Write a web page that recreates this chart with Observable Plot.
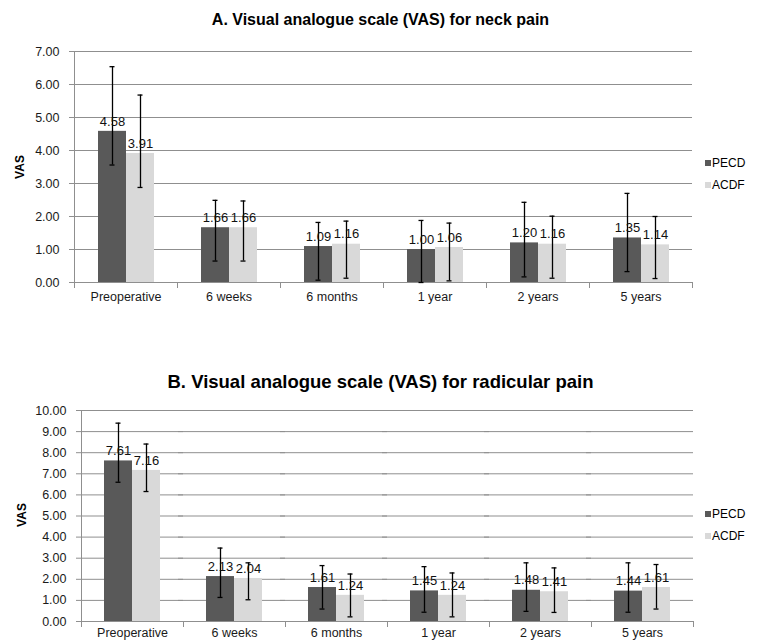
<!DOCTYPE html>
<html>
<head>
<meta charset="utf-8">
<script src="https://cdn.jsdelivr.net/npm/d3@7"></script>
<script src="https://cdn.jsdelivr.net/npm/@observablehq/plot@0.6"></script>
<style>
  html, body { margin: 0; padding: 0; background: #fff; }
  #root { position: relative; width: 761px; height: 642px; overflow: hidden; font-family: "Liberation Sans", Arial, sans-serif; color: #000; }
  .title { position: absolute; left: 0; width: 761px; text-align: center; font-weight: bold; white-space: nowrap; }
  .chart { position: absolute; left: 0; }
  .chart svg { overflow: visible; }
  .ylab { position: absolute; font-weight: bold; font-size: 12px; transform: translate(-50%, -50%) rotate(-90deg); white-space: nowrap; }
  .legend { position: absolute; left: 705px; font-size: 12px; }
  .legend div { position: relative; height: 22px; line-height: 14px; }
  .legend span.sw { position: absolute; left: 0; top: 4px; width: 6px; height: 6px; }
  .legend span.lt { position: absolute; left: 7px; top: 0; }
</style>
</head>
<body>
<div id="root">
  <div class="title" id="titleA" style="top:11px; font-size:16px;"></div>
  <div class="chart" id="chartA" style="top:35px;"></div>
  <div class="ylab" id="ylabA" style="left:20px; top:167px;"></div>
  <div class="legend" id="legendA" style="top:156px;"></div>

  <div class="title" id="titleB" style="top:371px; font-size:18.5px;"></div>
  <div class="chart" id="chartB" style="top:395px;"></div>
  <div class="ylab" id="ylabB" style="left:22px; top:515px;"></div>
  <div class="legend" id="legendB" style="top:507px;"></div>
</div>
<script>
// ---- Data ----
const titleA = "A. Visual analogue scale (VAS) for neck pain";
const titleB = "B. Visual analogue scale (VAS) for radicular pain";
const yLabel = "VAS";
const categories = ["Preoperative", "6 weeks", "6 months", "1 year", "2 years", "5 years"];
const seriesNames = ["PECD", "ACDF"];
const seriesColors = ["#595959", "#d9d9d9"];

const neckTicks = [0, 1, 2, 3, 4, 5, 6, 7];
const neckPECD = [4.58, 1.66, 1.09, 1.00, 1.20, 1.35];
const neckACDF = [3.91, 1.66, 1.16, 1.06, 1.16, 1.14];
const neckPECDLow = [3.56, 0.65, 0.07, 0.00, 0.17, 0.33];
const neckPECDHigh = [6.54, 2.49, 1.82, 1.88, 2.43, 2.70];
const neckACDFLow = [2.88, 0.65, 0.13, 0.05, 0.13, 0.12];
const neckACDFHigh = [5.68, 2.47, 1.86, 1.80, 2.01, 2.00];

const radTicks = [0, 1, 2, 3, 4, 5, 6, 7, 8, 9, 10];
const radPECD = [7.61, 2.13, 1.61, 1.45, 1.48, 1.44];
const radACDF = [7.16, 2.04, 1.24, 1.24, 1.41, 1.61];
const radPECDLow = [6.60, 1.14, 0.59, 0.44, 0.48, 0.44];
const radPECDHigh = [9.40, 3.48, 2.65, 2.60, 2.78, 2.78];
const radACDFLow = [6.16, 1.03, 0.22, 0.22, 0.43, 0.59];
const radACDFHigh = [8.41, 2.78, 2.25, 2.30, 2.54, 2.70];

// ---- Build ----
const fmt = d3.format(".2f");
const gridColor = "#8f8f8f";

function rowsOf(values, lows, highs) {
  return categories.flatMap((c, i) => seriesNames.map((s, j) => ({
    cat: c, series: s, value: values[j][i], low: lows[j][i], high: highs[j][i]
  })));
}

function makeChart({rows, ticks, height, marginTop, marginBottom, marginLeft, labelPad}) {
  const plotH = height - marginTop - marginBottom;
  return Plot.plot({
    width: 761,
    height,
    marginTop,
    marginBottom,
    marginLeft,
    marginRight: 68,
    style: {fontFamily: "'Liberation Sans', Arial, sans-serif", fontSize: "12.5px", color: "#1a1a1a", background: "transparent", overflow: "visible"},
    fx: {domain: categories, padding: 0, label: null, axis: "bottom", tickSize: 0, tickPadding: labelPad},
    x: {domain: seriesNames, paddingInner: 0, paddingOuter: 0.78, axis: null},
    y: {domain: [0, d3.max(ticks)], ticks, tickFormat: fmt, tickSize: 0, tickPadding: 15, label: null},
    color: {domain: seriesNames, range: seriesColors},
    marks: [
      Plot.ruleY(ticks, {y: d => d, stroke: gridColor, strokeWidth: 1, insetLeft: -5}),
      Plot.frame({anchor: "left", facetAnchor: "left", stroke: gridColor}),
      Plot.frame({anchor: "left", stroke: gridColor, insetTop: plotH, insetBottom: -5}),
      Plot.frame({anchor: "right", stroke: gridColor, insetTop: plotH, insetBottom: -5}),
      Plot.barY(rows, {fx: "cat", x: "series", y: "value", fill: "series"}),
      Plot.ruleX(rows, {fx: "cat", x: "series", y1: "low", y2: "high", stroke: "#000", strokeWidth: 1.3}),
      Plot.tickY(rows, {fx: "cat", x: "series", y: "low", stroke: "#000", strokeWidth: 1.3, insetLeft: 11.5, insetRight: 11.5}),
      Plot.tickY(rows, {fx: "cat", x: "series", y: "high", stroke: "#000", strokeWidth: 1.3, insetLeft: 11.5, insetRight: 11.5}),
      Plot.text(rows, {fx: "cat", x: "series", y: "value", text: d => fmt(d.value), dy: -10, fontSize: 13, fill: "#111"})
    ]
  });
}

function legend(el) {
  seriesNames.forEach((s, i) => {
    const row = document.createElement("div");
    const sw = document.createElement("span");
    sw.className = "sw"; sw.style.background = seriesColors[i];
    const lt = document.createElement("span");
    lt.className = "lt"; lt.textContent = s;
    row.appendChild(sw); row.appendChild(lt);
    el.appendChild(row);
  });
}

document.getElementById("titleA").textContent = titleA;
document.getElementById("titleB").textContent = titleB;
document.getElementById("ylabA").textContent = yLabel;
document.getElementById("ylabB").textContent = yLabel;

document.getElementById("chartA").appendChild(makeChart({
  rows: rowsOf([neckPECD, neckACDF], [neckPECDLow, neckACDFLow], [neckPECDHigh, neckACDFHigh]),
  ticks: neckTicks, height: 277, marginTop: 16, marginBottom: 30, marginLeft: 72, labelPad: 10
}));
document.getElementById("chartB").appendChild(makeChart({
  rows: rowsOf([radPECD, radACDF], [radPECDLow, radACDFLow], [radPECDHigh, radACDFHigh]),
  ticks: radTicks, height: 247, marginTop: 15, marginBottom: 21, marginLeft: 80, labelPad: 7
}));
legend(document.getElementById("legendA"));
legend(document.getElementById("legendB"));
</script>
</body>
</html>
